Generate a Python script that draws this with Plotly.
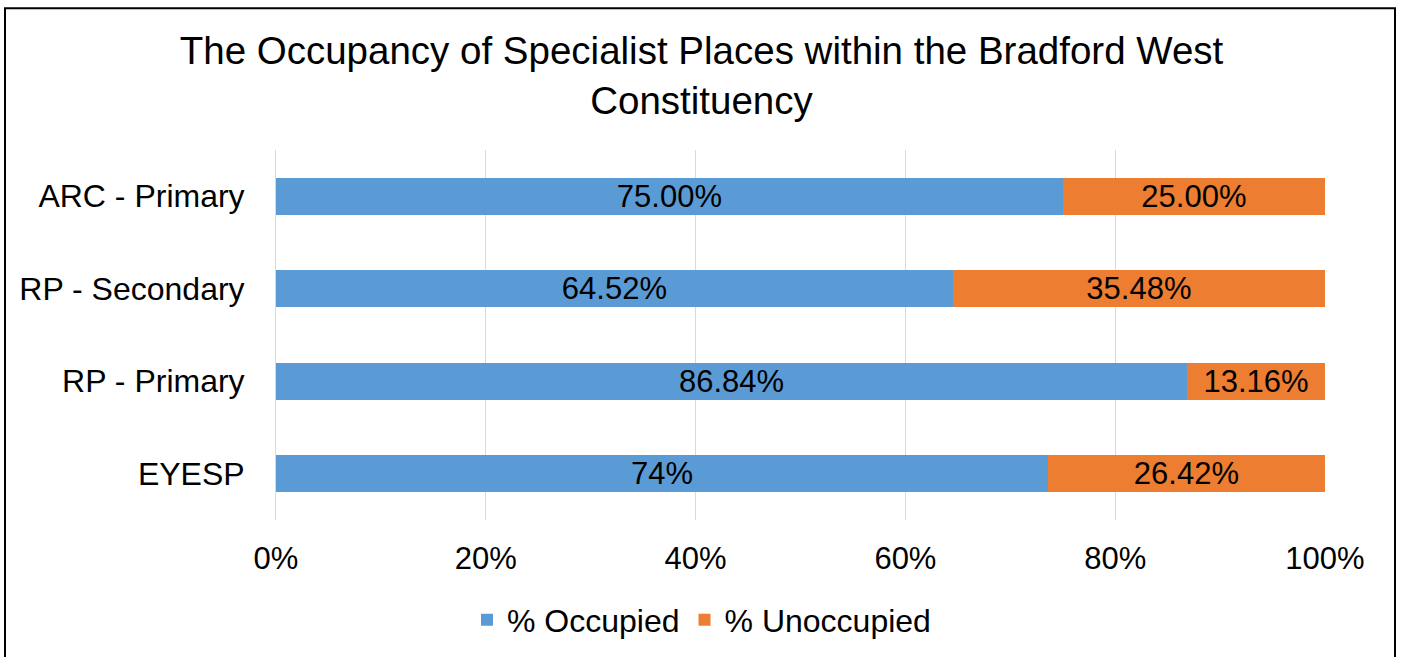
import plotly.graph_objects as go

categories = ["EYESP", "RP - Primary", "RP - Secondary", "ARC - Primary"]
occupied = [73.58, 86.84, 64.52, 75.00]
unoccupied = [26.42, 13.16, 35.48, 25.00]
occupied_labels = ["74%", "86.84%", "64.52%", "75.00%"]
unoccupied_labels = ["26.42%", "13.16%", "35.48%", "25.00%"]
x_ticks = [0, 20, 40, 60, 80, 100]
x_tick_labels = ["0%", "20%", "40%", "60%", "80%", "100%"]

FONT = "Liberation Sans"

fig = go.Figure()
fig.add_trace(go.Bar(
    y=categories, x=occupied, orientation="h", name="% Occupied",
    marker=dict(color="#5B9BD5", line=dict(width=0)),
    text=occupied_labels, textposition="inside", insidetextanchor="middle",
    textfont=dict(color="black", size=31, family=FONT), constraintext="none",
    hoverinfo="skip",
))
fig.add_trace(go.Bar(
    y=categories, x=unoccupied, orientation="h", name="% Unoccupied",
    marker=dict(color="#ED7D31", line=dict(width=0)),
    text=unoccupied_labels, textposition="inside", insidetextanchor="middle",
    textfont=dict(color="black", size=31, family=FONT), constraintext="none",
    hoverinfo="skip",
))

fig.update_layout(
    width=1403, height=657,
    barmode="stack", bargap=0.6,
    paper_bgcolor="white", plot_bgcolor="white",
    margin=dict(l=276, r=78, t=150, b=137, autoexpand=False),
    font=dict(family=FONT, color="black", size=31),
    uniformtext=dict(mode="show", minsize=31),
    title=dict(
        text="The Occupancy of Specialist Places within the Bradford West<br>Constituency",
        font=dict(size=38.5, family=FONT, color="black"),
        x=0.5, xref="container", xanchor="center",
        y=1 - 64 / 657, yref="container", yanchor="middle",
    ),
    xaxis=dict(
        range=[0, 100], tickvals=x_ticks, ticktext=x_tick_labels,
        showgrid=True, gridcolor="#D9D9D9", gridwidth=1,
        zeroline=False, showline=False, ticks="",
        tickfont=dict(size=31, family=FONT, color="black"),
        ticklabelstandoff=17,
    ),
    yaxis=dict(
        showgrid=False, showline=True, linecolor="#D9D9D9", linewidth=1,
        ticks="", tickfont=dict(size=32, family=FONT, color="black"),
        ticklabelstandoff=24,
    ),
    legend=dict(
        orientation="h", x=0.5, xref="container", xanchor="center",
        y=1 - 620 / 657, yref="container", yanchor="middle",
        font=dict(size=32, family=FONT, color="black"),
        itemwidth=30, traceorder="normal",
    ),
    showlegend=True,
)

# outer chart border
w_plot = 1403 - 276 - 78
h_plot = 657 - 150 - 137
def px_x(p):
    return (p - 276) / w_plot
def px_y(p):
    return (520 - p) / h_plot
fig.add_shape(type="line", xref="paper", yref="paper",
              x0=px_x(5), x1=px_x(5), y0=px_y(8.3), y1=px_y(700),
              line=dict(color="black", width=2))
fig.add_shape(type="line", xref="paper", yref="paper",
              x0=px_x(4), x1=px_x(1396), y0=px_y(8.3), y1=px_y(8.3),
              line=dict(color="black", width=2))
fig.add_shape(type="line", xref="paper", yref="paper",
              x0=px_x(1395), x1=px_x(1395), y0=px_y(8.3), y1=px_y(700),
              line=dict(color="black", width=2))

fig.write_html("out.html", config={"displayModeBar": False},
               post_script="document.body.style.margin='0';")
